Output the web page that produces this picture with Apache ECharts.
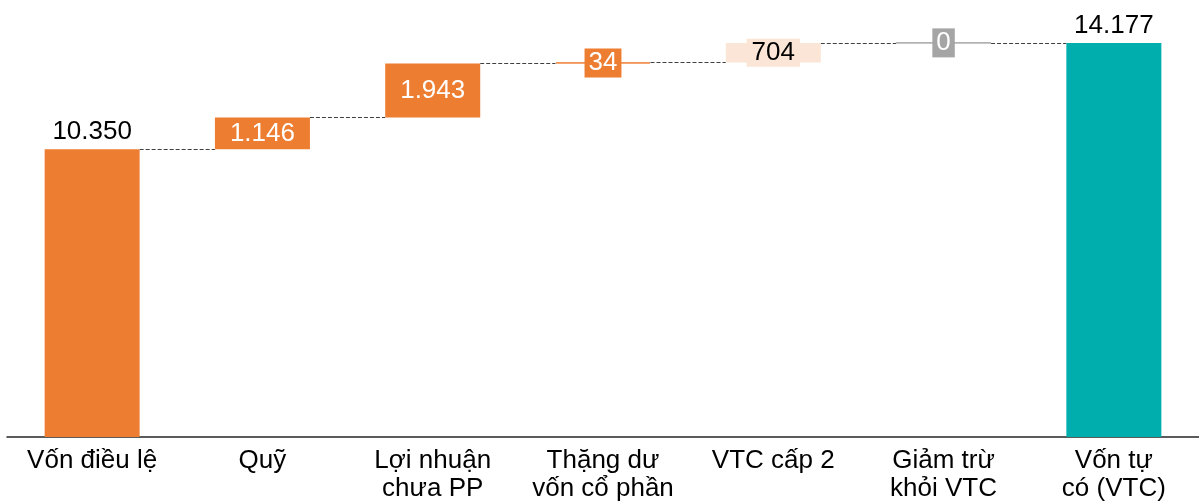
<!DOCTYPE html>
<html>
<head>
<meta charset="utf-8">
<script src="https://cdn.jsdelivr.net/npm/echarts@6/dist/echarts.min.js"></script>
<style>html,body{margin:0;padding:0;background:#fff;}#c{width:1199px;height:504px;}</style>
</head>
<body>
<div id="c"></div>
<script>
// ---- data ----
const categories = ['Vốn điều lệ', 'Quỹ', 'Lợi nhuận\nchưa PP', 'Thặng dư\nvốn cổ phần', 'VTC cấp 2', 'Giảm trừ\nkhỏi VTC', 'Vốn tự\ncó (VTC)'];
const values = [10350, 1146, 1943, 34, 704, 0, 14177];
const isTotal = [true, false, false, false, false, false, true];

// ---- styles ----
const barColors = ['#ED7D31', '#ED7D31', '#ED7D31', '#ED7D31', '#FBE5D6', '#A5A5A5', '#00AEAD'];
const FONT = 'Liberation Sans, Arial, sans-serif';

// waterfall base (invisible) from cumulative values
const bases = [];
const levels = [];
let run = 0;
values.forEach((v, i) => {
  if (isTotal[i]) { bases.push(0); run = v; }
  else { bases.push(run); run += v; }
  levels.push(run);
});

const fmt = v => String(v).replace(/\B(?=(\d{3})+(?!\d))/g, '.');

function labelFor(i) {
  const base = { show: true, fontSize: 26, fontFamily: FONT, formatter: p => fmt(p.value) };
  if (isTotal[i]) return Object.assign(base, { position: 'top', distance: 4, color: '#000' });
  if (i === 3) return Object.assign(base, { position: 'inside', color: '#fff', backgroundColor: '#ED7D31', padding: [2, 4, 2, 4], lineHeight: 25 });
  if (i === 4) return Object.assign(base, { position: 'inside', color: '#000', backgroundColor: '#FBE5D6', padding: [2, 5, 1, 5], lineHeight: 25 });
  if (i === 5) return Object.assign(base, { position: 'inside', color: '#fff', backgroundColor: '#A5A5A5', padding: [2, 4, 2, 4], lineHeight: 25 });
  return Object.assign(base, { position: 'inside', color: '#fff' });
}

const valueData = values.map((v, i) => ({
  value: v,
  itemStyle: { color: barColors[i], borderColor: barColors[i], borderWidth: (i === 3 || i === 5) ? 1 : 0 },
  label: labelFor(i)
}));

const chart = echarts.init(document.getElementById('c'), null, { renderer: 'canvas' });
chart.setOption({
  animation: false,
  grid: { left: 7, right: 0, top: 20, bottom: 67, containLabel: false },
  xAxis: {
    type: 'category',
    data: categories,
    axisLine: { show: true, lineStyle: { color: '#262626', width: 1.5 } },
    axisTick: { show: false },
    axisLabel: { fontSize: 26, fontFamily: FONT, color: '#000', lineHeight: 28, margin: 10, interval: 0 }
  },
  yAxis: { type: 'value', min: 0, max: 15000, show: false, splitLine: { show: false } },
  series: [
    { type: 'bar', stack: 'w', data: bases, itemStyle: { color: 'transparent' }, barWidth: 95, silent: true },
    { type: 'bar', stack: 'w', data: valueData, barWidth: 95, z: 3 },
    {
      type: 'custom',
      data: levels.slice(0, levels.length - 1).map((l, i) => [i, l]),
      z: 2,
      silent: true,
      renderItem: function (params, api) {
        const i = api.value(0), lvl = api.value(1);
        const p0 = api.coord([i, lvl]);
        const p1 = api.coord([i + 1, lvl]);
        const half = 95 / 2;
        const y = Math.round(p0[1]) + 0.5;
        return {
          type: 'line',
          shape: { x1: p0[0] + half, y1: y, x2: p1[0] - half, y2: y },
          style: { stroke: '#404040', lineWidth: 1, lineDash: [4, 2] }
        };
      }
    }
  ]
});
</script>
</body>
</html>
